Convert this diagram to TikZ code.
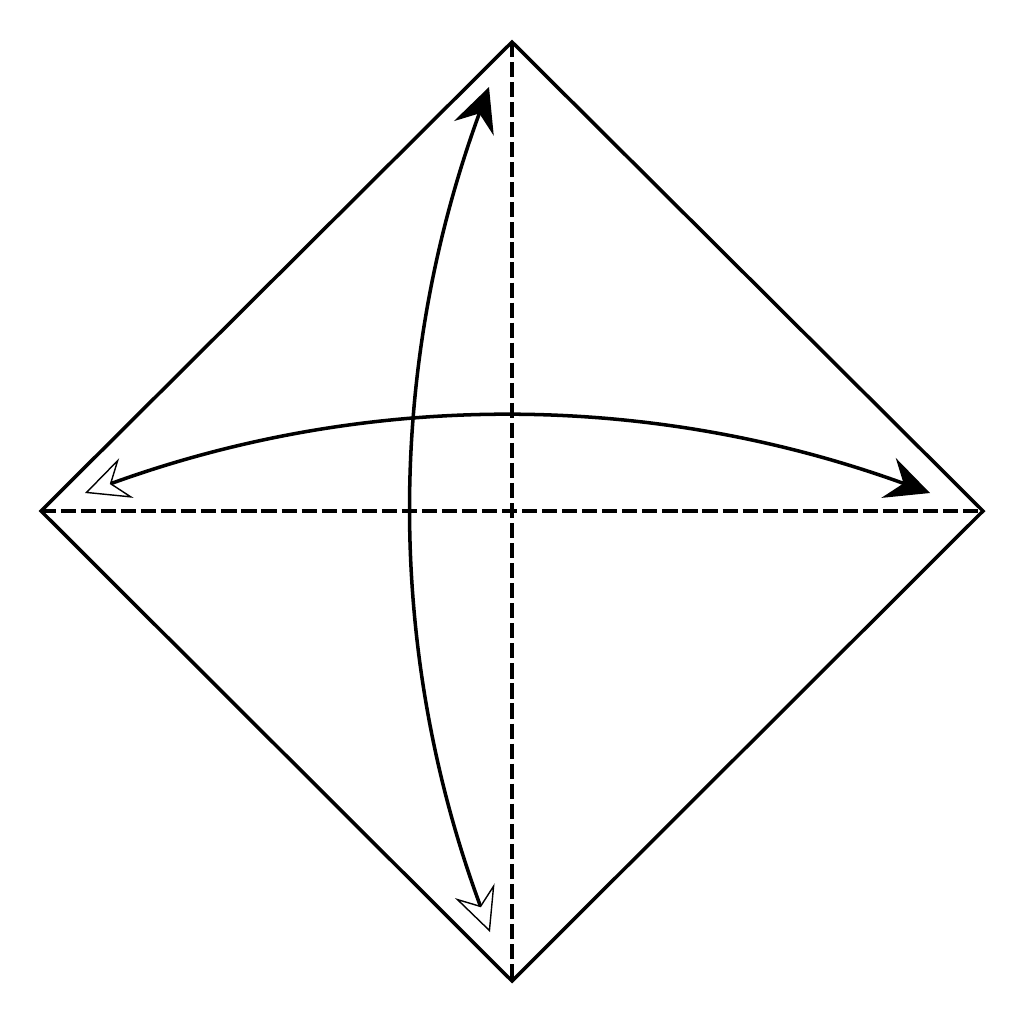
\documentclass[tikz,border=0pt]{standalone}
\usetikzlibrary{arrows.meta}
\begin{document}
\begin{tikzpicture}[x=0.01cm,y=-0.01cm,
  edge/.style={line width=1pt, line join=miter},
  fold/.style={line width=1.05pt, dash pattern=on 4.3pt off 1.4pt},
  arc/.style={line width=1pt},
  fulltip/.tip={Stealth[length=12.5pt,width=12pt,inset=4.5pt]},
  opentip/.tip={Stealth[open,length=12.5pt,width=12pt,inset=4.5pt,line width=0.4pt]}]
\useasboundingbox (0,0) rectangle (1024,1024);
\coordinate (T) at (512,42);
\coordinate (R) at (983,511);
\coordinate (B) at (512,981);
\coordinate (L) at (41,511);
\coordinate (C) at (512,511);
\draw[edge] (T) -- (R) -- (B) -- (L) -- cycle;
\draw[fold] (T) -- (B);
\draw[fold] (L) -- (R);
% horizontal arc
\coordinate (hl) at (85,493);
\coordinate (hr) at (930,493);
\draw[arc, opentip-fulltip] (hl) .. controls (366,391) and (649,391) .. (hr);
% vertical arc
\coordinate (vt) at (489,87);
\coordinate (vb) at (490,932);
\draw[arc, fulltip-opentip] (vt) .. controls (386,368) and (386,651) .. (vb);
\end{tikzpicture}
\end{document}
